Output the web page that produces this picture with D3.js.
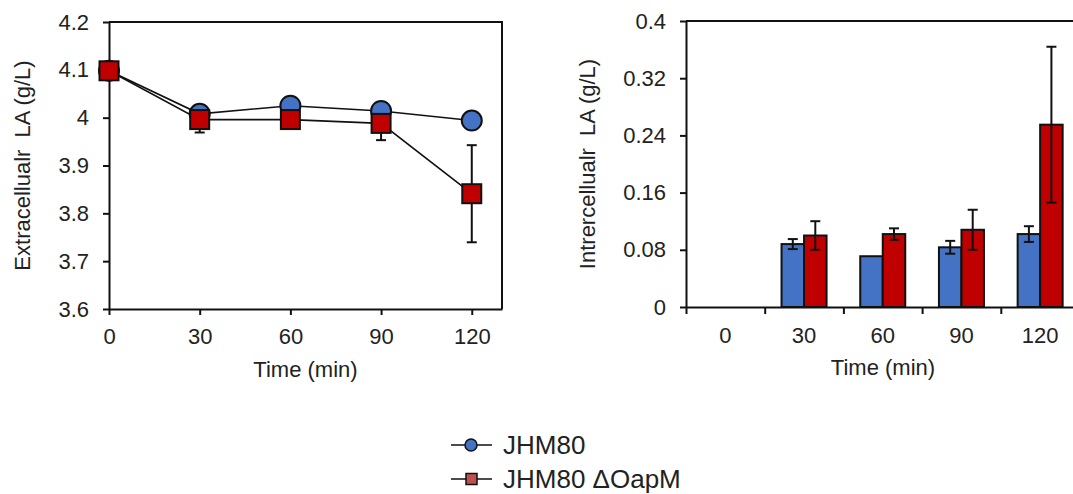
<!DOCTYPE html>
<html>
<head>
<meta charset="utf-8">
<script src="https://cdn.jsdelivr.net/npm/d3@7"></script>
<style>
  html, body { margin: 0; padding: 0; background: #fff; }
  svg { display: block; font-family: "Liberation Sans", Arial, sans-serif; }
</style>
</head>
<body>
<svg id="chart" width="1073" height="494"></svg>
<script>
// Time points (min)
const times = [0, 30, 60, 90, 120];
const timeLabels = ["0", "30", "60", "90", "120"];

// Extracellular LA (g/L)
const extWT = [4.098, 4.008, 4.025, 4.014, 3.994];
const extWTErr = [0, 0.006, 0.004, 0.005, 0.004];
const extKO = [4.098, 3.996, 3.996, 3.988, 3.841];
const extKOErr = [0, 0.027, 0.003, 0.035, 0.1015];

// Intracellular LA (g/L)
const intWT = [0, 0.088, 0.071, 0.0835, 0.102];
const intWTErr = [0, 0.007, 0, 0.009, 0.011];
const intKO = [0, 0.100, 0.102, 0.108, 0.255];
const intKOErr = [0, 0.020, 0.008, 0.028, 0.109];

// Axis ticks
const extTicks = [3.6, 3.7, 3.8, 3.9, 4.0, 4.1, 4.2];
const intTicks = [0, 0.08, 0.16, 0.24, 0.32, 0.4];

const seriesNames = ["JHM80", "JHM80 \u0394OapM"];
const blue = "#4472C4";
const red = "#C00000";
const legendRed = "#C0504D";
const ink = "#111";
const textColor = "#222";
const fontSize = 22;
const sw = 2;

const svg = d3.select("#chart");

function styleAxis(g) {
  g.select(".domain").attr("stroke", ink).attr("stroke-width", sw);
  g.selectAll(".tick line").attr("stroke", ink).attr("stroke-width", sw);
  g.selectAll(".tick text").attr("fill", textColor).style("font-size", fontSize + "px");
}

function errorBar(g, x, yTop, yBot, cap) {
  g.append("line").attr("x1", x).attr("x2", x).attr("y1", yTop).attr("y2", yBot);
  g.append("line").attr("x1", x - cap).attr("x2", x + cap).attr("y1", yTop).attr("y2", yTop);
  g.append("line").attr("x1", x - cap).attr("x2", x + cap).attr("y1", yBot).attr("y2", yBot);
}

// ---------- Left panel: extracellular LA line chart ----------
{
  const L = 109, R = 502, T = 22, B = 309;
  const x = d3.scaleLinear().domain([0, 130]).range([L, R]);
  const y = d3.scaleLinear().domain([3.6, 4.2]).range([B, T]);

  // frame (top and right border)
  svg.append("path")
    .attr("d", `M${L},${T}H${R}V${B}`)
    .attr("fill", "none").attr("stroke", ink).attr("stroke-width", sw);

  svg.append("g").attr("transform", `translate(0,${B})`)
    .call(d3.axisBottom(x).tickValues(times).tickFormat((d, i) => timeLabels[i])
      .tickSizeInner(6).tickSizeOuter(0).tickPadding(13))
    .call(styleAxis);

  svg.append("g").attr("transform", `translate(${L},0)`)
    .call(d3.axisLeft(y).tickValues(extTicks).tickFormat(d3.format("~g"))
      .tickSizeInner(6).tickSizeOuter(0).tickPadding(14))
    .call(styleAxis);

  // axis titles
  svg.append("text").attr("x", (L + R) / 2).attr("y", 377).attr("text-anchor", "middle")
    .attr("fill", textColor).style("font-size", fontSize + "px").text("Time (min)");
  svg.append("text").attr("transform", `translate(30,${(T + B) / 2}) rotate(-90)`)
    .attr("text-anchor", "middle").attr("fill", textColor).style("font-size", fontSize + "px")
    .attr("xml:space", "preserve")
    .text("Extracellualr  LA (g/L)");

  const series = [
    { vals: extWT, errs: extWTErr, shape: "circle", fill: blue },
    { vals: extKO, errs: extKOErr, shape: "square", fill: red }
  ];
  const line = d3.line().x((d, i) => x(times[i])).y(d => y(d));

  series.forEach(s => {
    const eg = svg.append("g").attr("stroke", ink).attr("stroke-width", sw);
    s.vals.forEach((v, i) => {
      if (s.errs[i] > 0) errorBar(eg, x(times[i]), y(v + s.errs[i]), y(v - s.errs[i]), 5);
    });
    svg.append("path").datum(s.vals).attr("d", line)
      .attr("fill", "none").attr("stroke", ink).attr("stroke-width", 1.6);
  });

  series.forEach(s => {
    const mg = svg.append("g");
    if (s.shape === "circle") {
      mg.selectAll("circle").data(s.vals).join("circle")
        .attr("cx", (d, i) => x(times[i])).attr("cy", d => y(d)).attr("r", 10)
        .attr("fill", s.fill).attr("stroke", ink).attr("stroke-width", sw);
    } else {
      const h = 19;
      mg.selectAll("rect").data(s.vals).join("rect")
        .attr("x", (d, i) => x(times[i]) - h / 2).attr("y", d => y(d) - h / 2)
        .attr("width", h).attr("height", h)
        .attr("fill", s.fill).attr("stroke", ink).attr("stroke-width", sw);
    }
  });
}

// ---------- Right panel: intracellular LA bar chart ----------
{
  const L = 686, R = 1079.5, T = 21, B = 307;
  const x0 = d3.scaleBand().domain(timeLabels).range([L, R]).padding(0);
  const bw = x0.bandwidth();
  const x1 = d3.scaleBand().domain([0, 1]).range([bw * 0.214, bw * 0.786]).padding(0);
  const y = d3.scaleLinear().domain([0, 0.4]).range([B, T]);

  // top border
  svg.append("line").attr("x1", L).attr("x2", R).attr("y1", T).attr("y2", T)
    .attr("stroke", ink).attr("stroke-width", sw);

  // bars, one record per time point and strain
  const groups = [
    { vals: intWT, errs: intWTErr, fill: blue },
    { vals: intKO, errs: intKOErr, fill: red }
  ];
  groups.forEach((s, si) => {
    const recs = s.vals.map((v, i) => ({ cat: timeLabels[i], v, e: s.errs[i] }));
    svg.append("g").selectAll("rect").data(recs.filter(r => r.v > 0)).join("rect")
      .attr("x", r => x0(r.cat) + x1(si))
      .attr("y", r => y(r.v))
      .attr("width", x1.bandwidth())
      .attr("height", r => y(0) - y(r.v))
      .attr("fill", s.fill).attr("stroke", ink).attr("stroke-width", sw);
  });
  groups.forEach((s, si) => {
    const eg = svg.append("g").attr("stroke", ink).attr("stroke-width", sw);
    s.vals.forEach((v, i) => {
      if (s.errs[i] > 0) {
        const cx = x0(timeLabels[i]) + x1(si) + x1.bandwidth() / 2;
        errorBar(eg, cx, y(v + s.errs[i]), y(v - s.errs[i]), 5);
      }
    });
  });

  // category labels
  svg.append("g").attr("transform", `translate(0,${B})`)
    .call(d3.axisBottom(x0).tickSize(0).tickPadding(20))
    .call(styleAxis)
    .call(g => g.select(".domain").remove());

  // tick marks on category boundaries
  const xb = d3.scaleLinear().domain([0, timeLabels.length]).range([L, R]);
  svg.append("g").attr("transform", `translate(0,${B})`)
    .call(d3.axisBottom(xb).ticks(timeLabels.length).tickFormat("")
      .tickSizeInner(7).tickSizeOuter(0))
    .call(styleAxis);

  svg.append("g").attr("transform", `translate(${L},0)`)
    .call(d3.axisLeft(y).tickValues(intTicks).tickFormat(d3.format("~g"))
      .tickSizeInner(6).tickSizeOuter(0).tickPadding(14))
    .call(styleAxis);

  svg.append("text").attr("x", 883).attr("y", 375).attr("text-anchor", "middle")
    .attr("fill", textColor).style("font-size", fontSize + "px").text("Time (min)");
  svg.append("text").attr("transform", `translate(595,${(T + B) / 2}) rotate(-90)`)
    .attr("text-anchor", "middle").attr("fill", textColor).style("font-size", fontSize + "px")
    .attr("xml:space", "preserve")
    .text("Intrercellualr  LA (g/L)");
}

// ---------- Legend ----------
{
  const rows = [
    { name: seriesNames[0], cy: 445, shape: "circle", fill: blue },
    { name: seriesNames[1], cy: 479, shape: "square", fill: legendRed }
  ];
  rows.forEach(r => {
    const g = svg.append("g");
    g.append("line").attr("x1", 451).attr("x2", 492).attr("y1", r.cy).attr("y2", r.cy)
      .attr("stroke", ink).attr("stroke-width", 1.6);
    if (r.shape === "circle") {
      g.append("circle").attr("cx", 471).attr("cy", r.cy).attr("r", 6)
        .attr("fill", r.fill).attr("stroke", ink).attr("stroke-width", 1.5);
    } else {
      g.append("rect").attr("x", 466).attr("y", r.cy - 5.5).attr("width", 11).attr("height", 11)
        .attr("fill", r.fill).attr("stroke", ink).attr("stroke-width", 1.5);
    }
    g.append("text").attr("x", 503).attr("y", r.cy + 9)
      .attr("fill", textColor).style("font-size", "26px").text(r.name);
  });
}
</script>
</body>
</html>
